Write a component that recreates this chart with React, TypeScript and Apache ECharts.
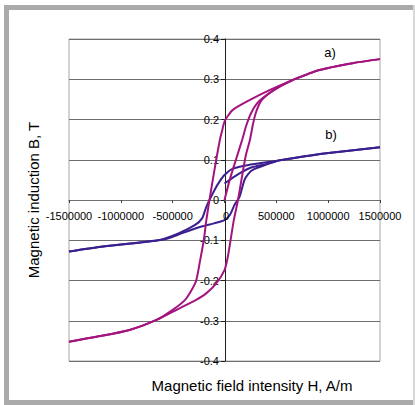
import React, { useEffect, useRef } from "react";
import * as echarts from "echarts";

// Curve a) (magenta)
const aDescH = [1500000, 1235000, 916000, 656000, 434000, 241000, 80000, 30000, 0, -25000, -45000, -100000, -145000, -175000, -200000, -235000, -273000, -320000, -380000, -500000, -656000, -916000, -1235000, -1500000];
const aDescB = [0.35, 0.34, 0.323, 0.298, 0.273, 0.248, 0.224, 0.208, 0.195, 0.17, 0.149, 0.07, 0, -0.05, -0.1, -0.15, -0.2, -0.225, -0.248, -0.273, -0.298, -0.323, -0.34, -0.352];
const aAscH = [-1500000, -1235000, -916000, -656000, -434000, -273000, -177000, -80000, 0, 32000, 64000, 90000, 130000, 170000, 205000, 245000, 272000, 300000, 350000, 440000, 550000, 656000, 916000, 1235000, 1500000];
const aAscB = [-0.352, -0.34, -0.323, -0.298, -0.269, -0.248, -0.232, -0.207, -0.174, -0.141, -0.091, -0.05, 0, 0.06, 0.11, 0.149, 0.185, 0.215, 0.245, 0.267, 0.285, 0.298, 0.323, 0.34, 0.35];
const aInitH = [0, 50000, 110000, 170000, 210000, 255000, 320000, 420000, 550000, 656000];
const aInitB = [0, 0.05, 0.1, 0.149, 0.185, 0.215, 0.242, 0.263, 0.284, 0.298];

// Curve b) (blue)
const bDescH = [1500000, 983000, 658000, 500000, 434000, 250000, 80000, 0, -50000, -96000, -145000, -180000, -215000, -283000, -444000, -637000, -1190000, -1500000];
const bDescB = [0.131, 0.116, 0.104, 0.097, 0.095, 0.088, 0.078, 0.062, 0.045, 0.025, 0, -0.02, -0.045, -0.062, -0.083, -0.1, -0.116, -0.128];
const bAscH = [-1500000, -1190000, -637000, -540000, -415000, -222000, -100000, 0, 50000, 97000, 145000, 193000, 230000, 273000, 434000, 500000, 658000, 983000, 1500000];
const bAscB = [-0.128, -0.116, -0.1, -0.095, -0.083, -0.066, -0.058, -0.05, -0.038, -0.012, 0.008, 0.05, 0.065, 0.075, 0.091, 0.097, 0.104, 0.116, 0.131];
const bInitH = [0, 60000, 145000, 250000, 434000, 500000];
const bInitB = [0.041, 0.052, 0.066, 0.08, 0.091, 0.097];

const xMin = -1500000, xMax = 1500000, xStep = 500000;
const yMin = -0.4, yMax = 0.4, yStep = 0.1;

const colA = "#a3147f";
const colB = "#3b1f8f";
const FONT = "Liberation Sans, Arial, sans-serif";

const zip = (h: number[], b: number[]) => h.map((v, i) => [v, b[i]]);

export default function App() {
  const ref = useRef<HTMLDivElement>(null);
  useEffect(() => {
    if (!ref.current) return;
    const chart = echarts.init(ref.current, undefined, { renderer: "svg" });
    const line = (data: number[][], color: string) => ({
      type: "line",
      data,
      showSymbol: false,
      smooth: 0.25,
      lineStyle: { color, width: 2 },
      silent: true,
    });
    chart.setOption({
      animation: false,
      backgroundColor: "#ffffff",
      grid: {
        left: 69, right: 35, top: 39, bottom: 44,
        show: true, borderColor: "#a8a8a8", borderWidth: 1, backgroundColor: "transparent",
      },
      xAxis: {
        type: "value", min: xMin, max: xMax, interval: xStep,
        position: "bottom", offset: -161,
        axisLine: { onZero: false, lineStyle: { color: "#707070", width: 1 } },
        axisTick: { show: true, length: 3, lineStyle: { color: "#404040" } },
        axisLabel: { fontFamily: FONT, fontSize: 11, color: "#000", margin: 10, hideOverlap: false, formatter: (v: number) => (v === 0 ? "" : String(v)) },
        splitLine: { show: false },
      },
      yAxis: {
        type: "value", min: yMin, max: yMax, interval: yStep,
        position: "left", offset: -156,
        axisLine: { onZero: false, lineStyle: { color: "#202020", width: 1 } },
        axisTick: { show: true, length: 4, lineStyle: { color: "#202020" } },
        axisLabel: { fontFamily: FONT, fontSize: 11, color: "#000", margin: 6, hideOverlap: false, formatter: (v: number) => String(Math.round(v * 10) / 10) },
        splitLine: { show: true, lineStyle: { color: "#6e6e6e", width: 1 } },
      },
      series: [
        line(zip(bDescH, bDescB).reverse(), colB),
        line(zip(bAscH, bAscB), colB),
        line(zip(bInitH, bInitB), colB),
        line(zip(aDescH, aDescB).reverse(), colA),
        line(zip(aAscH, aAscB), colA),
        line(zip(aInitH, aInitB), colA),
      ],
      graphic: [
        { type: "rect", shape: { x: 4, y: 5, width: 411, height: 5 }, style: { fill: "#aaaaaa" } },
        { type: "rect", shape: { x: 4, y: 5, width: 5, height: 400 }, style: { fill: "#aaaaaa" } },
        { type: "rect", shape: { x: 4, y: 400, width: 411, height: 5 }, style: { fill: "#aaaaaa" } },
        { type: "rect", shape: { x: 413, y: 5, width: 2, height: 400 }, style: { fill: "#d8d8d8" } },
        { type: "text", x: 226, y: 216, z: 10, style: { text: "0", font: `11px ${FONT}`, fill: "#000", align: "center", verticalAlign: "middle" } },
        { type: "text", x: 330, y: 52, style: { text: "a)", font: `13px ${FONT}`, fill: "#000", align: "center", verticalAlign: "middle" } },
        { type: "text", x: 331, y: 134, style: { text: "b)", font: `13px ${FONT}`, fill: "#000", align: "center", verticalAlign: "middle" } },
        { type: "text", x: 252, y: 385, style: { text: "Magnetic field intensity H, A/m", font: `15px ${FONT}`, fill: "#000", align: "center", verticalAlign: "middle" } },
        { type: "text", x: 33, y: 200, rotation: Math.PI / 2, style: { text: "Magnetic induction B, T", font: `15px ${FONT}`, fill: "#000", align: "center", verticalAlign: "middle" } },
      ],
    });
    return () => chart.dispose();
  }, []);
  return <div ref={ref} style={{ position: "fixed", left: 0, top: 0, width: 415, height: 405 }} />;
}
